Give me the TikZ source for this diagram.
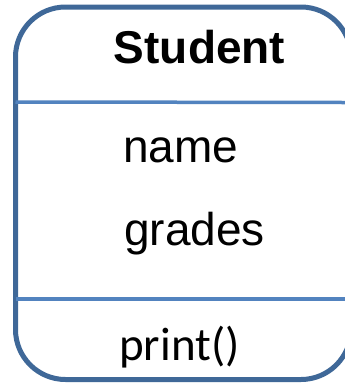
\documentclass[tikz,border=0pt]{standalone}
\usepackage{fontspec}
\setmainfont{Liberation Sans}
\newfontfamily\calib{Carlito}
\definecolor{frameblue}{HTML}{3F6898}
\definecolor{divblue}{HTML}{5283BF}
\begin{document}
\begin{tikzpicture}[x=1pt,y=-1pt,
  txt/.style={inner sep=0pt, font=\fontsize{46}{50}\selectfont},
  frame/.style={draw=frameblue, line width=5pt, rounded corners=50pt},
  divider/.style={draw=divblue, line width=3.5pt}]
\useasboundingbox (0,0) rectangle (345,384);
\fill[white] (0,0) rectangle (345,384);
\begin{scope}
\clip (0,0) rectangle (345,384);
\draw[frame] (15.5,7) rectangle (351,379.5);
\end{scope}
\coordinate (d1l) at (15.5,102);
\coordinate (d1r) at (345,102.5);
\coordinate (d2l) at (15.5,299);
\coordinate (d2r) at (345,299);
\draw[divider] (d1l) -- (d1r);
\draw[divider] (d2l) -- (d2r);
\node[txt, font=\fontsize{46}{50}\selectfont\bfseries, anchor=base] (title) at (199.5,63) {Student};
\node[txt, anchor=base west] (name) at (123,162) {name};
\node[txt, anchor=base west] (grades) at (124,245) {grades};
\node[txt, font=\fontsize{47}{50}\selectfont\calib, anchor=base west] (print) at (119,360) {print()};
\end{tikzpicture}
\end{document}
